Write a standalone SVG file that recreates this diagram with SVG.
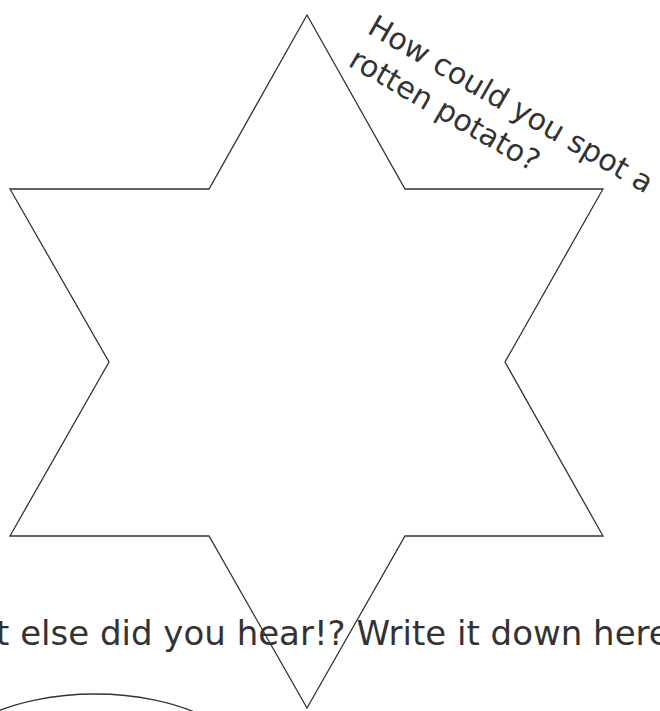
<svg xmlns="http://www.w3.org/2000/svg" width="660" height="711" viewBox="0 0 660 711">
<style>
.shape{fill:none;stroke:#333;stroke-width:1.3;stroke-linejoin:miter}
.lbl{font-family:"DejaVu Sans",sans-serif;fill:#333}
</style>
<rect width="660" height="711" fill="#fff"/>
<g id="star">
<polygon class="shape" points="307,15 405,189 603,189 505,362 603,536 405,536 307,708 209,536 10,536 109,362 10,189 209,189"/>
</g>
<g id="ellipse">
<ellipse class="shape" cx="95" cy="777" rx="160" ry="83"/>
</g>
<g id="note">
<g transform="rotate(30)">
<text class="lbl" x="333" y="-155" font-size="30">How could you spot a</text>
<text class="lbl" x="333" y="-117" font-size="30">rotten potato?</text>
</g>
</g>
<g id="caption">
<text class="lbl" x="-80" y="645" font-size="34">What else did you hear!? Write it down here</text>
</g>
<g id="connectors"></g>
</svg>
